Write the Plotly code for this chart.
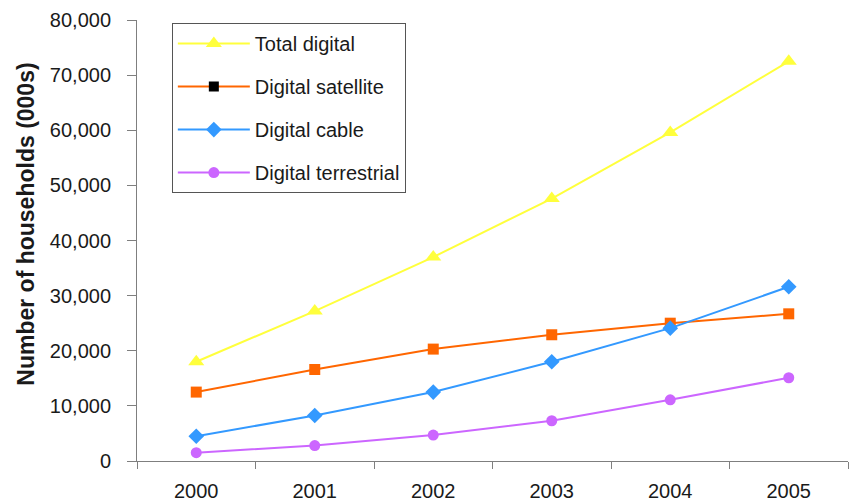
import plotly.graph_objects as go

years = [2000, 2001, 2002, 2003, 2004, 2005]
total_digital = [18000, 27200, 37000, 47600, 59600, 72500]
digital_satellite = [12500, 16600, 20300, 22900, 25000, 26700]
digital_cable = [4500, 8250, 12500, 18000, 24100, 31600]
digital_terrestrial = [1500, 2800, 4700, 7300, 11100, 15100]
y_ticks = [0, 10000, 20000, 30000, 40000, 50000, 60000, 70000, 80000]
y_tick_text = ["0", "10,000", "20,000", "30,000", "40,000", "50,000", "60,000", "70,000", "80,000"]

FONT = "Liberation Sans, Arial, sans-serif"
YELLOW = "#FFFF3C"
ORANGE = "#FF6600"
BLUE = "#3399FF"
PURPLE = "#CC66FF"

fig = go.Figure()
fig.add_trace(go.Scatter(x=years, y=total_digital, name="Total digital", legendgroup="a",
                         mode="lines+markers", line=dict(color=YELLOW, width=2),
                         marker=dict(symbol="triangle-up", size=14, color=YELLOW)))
# legend-only entry (reference legend shows a black square on the orange line)
fig.add_trace(go.Scatter(x=[None], y=[None], name="Digital satellite", legendgroup="b",
                         mode="lines+markers", line=dict(color=ORANGE, width=2),
                         marker=dict(symbol="square", size=10, color="black")))
fig.add_trace(go.Scatter(x=years, y=digital_satellite, name="Digital satellite", legendgroup="b",
                         showlegend=False,
                         mode="lines+markers", line=dict(color=ORANGE, width=2),
                         marker=dict(symbol="square", size=11, color=ORANGE)))
fig.add_trace(go.Scatter(x=years, y=digital_cable, name="Digital cable", legendgroup="c",
                         mode="lines+markers", line=dict(color=BLUE, width=2),
                         marker=dict(symbol="diamond", size=12, color=BLUE)))
fig.add_trace(go.Scatter(x=years, y=digital_terrestrial, name="Digital terrestrial", legendgroup="d",
                         mode="lines+markers", line=dict(color=PURPLE, width=2),
                         marker=dict(symbol="circle", size=11, color=PURPLE)))

fig.update_layout(
    width=849, height=504,
    margin=dict(l=137, r=1, t=20, b=43),
    paper_bgcolor="white", plot_bgcolor="white",
    font=dict(family=FONT, size=20, color="#1a1a1a"),
    showlegend=True,
    legend=dict(x=0.049, y=0.993, xanchor="left", yanchor="top",
                bordercolor="#555555", borderwidth=1, bgcolor="white",
                font=dict(family=FONT, size=20, color="#1a1a1a"),
                tracegroupgap=14, itemwidth=72),
    annotations=[dict(text="<b>Number of households (000s)</b>", textangle=-90,
                      xref="paper", yref="paper", x=-0.156, y=0.536,
                      xanchor="center", yanchor="middle", showarrow=False,
                      font=dict(family=FONT, size=23, color="#1a1a1a"))],
)
fig.update_xaxes(range=[1999.5, 2005.5], tickvals=years, ticktext=[str(y) for y in years],
                 showgrid=False, zeroline=False, showline=True, linecolor="#7f7f7f", linewidth=1,
                 ticks="", ticklabelstandoff=12, automargin=False,
                 minor=dict(tick0=1999.5, dtick=1, ticks="outside", ticklen=7,
                            tickcolor="#7f7f7f", showgrid=False))
fig.update_yaxes(range=[0, 80000], tickvals=y_ticks, ticktext=y_tick_text,
                 showgrid=False, zeroline=False, showline=True, linecolor="#7f7f7f", linewidth=1,
                 ticks="outside", ticklen=9, tickcolor="#7f7f7f", ticklabelstandoff=12,
                 automargin=False)

fig.write_html("out.html")
